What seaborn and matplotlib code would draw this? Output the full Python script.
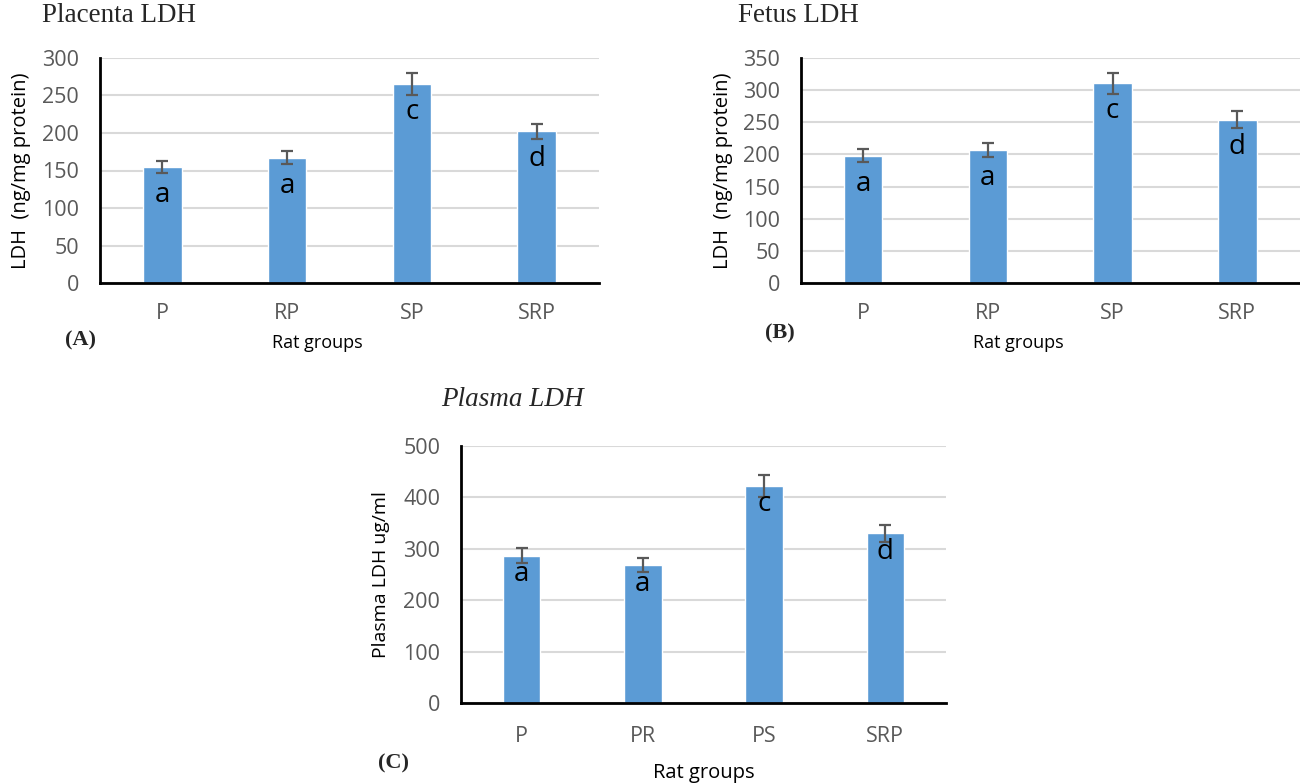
import matplotlib
matplotlib.use("Agg")
import matplotlib.pyplot as plt
import seaborn as sns
import pandas as pd

# ---- data ----
groups_ab = ["P", "RP", "SP", "SRP"]
groups_c = ["P", "PR", "PS", "SRP"]

placenta_ldh = [155, 167, 265, 202]
placenta_err = [8, 8.5, 14, 10]
placenta_letters = ["a", "a", "c", "d"]

fetus_ldh = [198, 207, 310, 254]
fetus_err = [10, 11, 16, 13]
fetus_letters = ["a", "a", "c", "d"]

plasma_ldh = [287, 268, 422, 330]
plasma_err = [14.5, 13.5, 21, 17]
plasma_letters = ["a", "a", "c", "d"]

yticks_a = [0, 50, 100, 150, 200, 250, 300]
yticks_b = [0, 50, 100, 150, 200, 250, 300, 350]
yticks_c = [0, 100, 200, 300, 400, 500]

# ---- style ----
sns.set_theme(style="white")
plt.rcParams["font.family"] = ["Open Sans", "DejaVu Sans"]

BAR = "#5B9BD5"
GRAY = "#595959"
W, H = 1300, 784

fig = plt.figure(figsize=(13, 7.84), dpi=100)


def px_axes(left, top, right, bottom):
    return fig.add_axes([left / W, 1 - bottom / H, (right - left) / W, (bottom - top) / H])


def panel(ax, cats, vals, errs, letters, yticks, ylabel, ylab_x, xlab_x, xlab_y,
          lab_fs, xlab_fs, letter_off, xpad):
    df = pd.DataFrame({"group": cats, "value": vals})
    sns.barplot(data=df, x="group", y="value", color=BAR, saturation=1,
                width=0.31, errorbar=None, ax=ax, zorder=2)
    ax.errorbar(range(len(vals)), vals, yerr=errs, fmt="none", ecolor=GRAY,
                elinewidth=1.6, capsize=4, capthick=1.6, zorder=3)
    for i, (v, t) in enumerate(zip(vals, letters)):
        ax.annotate(t, (i, v), xytext=(0, letter_off), textcoords="offset points",
                    ha="center", va="top", fontsize=20, color="black", zorder=4)
    ax.set_xlim(-0.5, len(vals) - 0.5)
    ax.set_ylim(yticks[0], yticks[-1])
    ax.set_yticks(yticks)
    ax.yaxis.grid(True, color="#d9d9d9", lw=1.5)
    ax.xaxis.grid(False)
    ax.set_axisbelow(True)
    for s in ["top", "right"]:
        ax.spines[s].set_visible(False)
    for s in ["left", "bottom"]:
        ax.spines[s].set_color("black")
        ax.spines[s].set_linewidth(2)
    ax.tick_params(axis="y", length=0, pad=15, labelsize=15.5, labelcolor=GRAY)
    ax.tick_params(axis="x", length=0, pad=xpad, labelsize=15.5, labelcolor=GRAY)
    ax.set_ylabel(ylabel, fontsize=lab_fs, color="black", va="center")
    ax.yaxis.set_label_coords(ylab_x, 0.5)
    ax.set_xlabel("Rat groups", fontsize=xlab_fs, color="black", va="center")
    ax.xaxis.set_label_coords(xlab_x, xlab_y)


axA = px_axes(100, 57.7, 599, 283.3)
panel(axA, groups_ab, placenta_ldh, placenta_err, placenta_letters, yticks_a,
      "LDH  (ng/mg protein)", -0.158, 0.435, -0.265, 14.5, 13, -10, 14)

axB = px_axes(800.8, 57.7, 1299.6, 283.3)
panel(axB, groups_ab, fetus_ldh, fetus_err, fetus_letters, yticks_b,
      "LDH  (ng/mg protein)", -0.156, 0.437, -0.265, 14.5, 13, -10, 14)

axC = px_axes(461, 446, 946, 703.3)
panel(axC, groups_c, plasma_ldh, plasma_err, plasma_letters, yticks_c,
      "Plasma LDH ug/ml", -0.165, 0.501, -0.271, 14, 14.5, -3, 16)

serif = ["Liberation Serif", "DejaVu Serif"]
fig.text(42 / W, 1 - 15 / H, "Placenta LDH", fontsize=19.5, family=serif, va="center", ha="left")
fig.text(737.5 / W, 1 - 15 / H, "Fetus LDH", fontsize=19.5, family=serif, va="center", ha="left")
fig.text(441 / W, 1 - 400 / H, "Plasma LDH", fontsize=19.5, family=serif, style="italic",
         va="center", ha="left")

fig.text(80 / W, 1 - 340 / H, "(A)", fontsize=16, family=serif, weight="bold", ha="center", va="center")
fig.text(779.5 / W, 1 - 333 / H, "(B)", fontsize=16, family=serif, weight="bold", ha="center", va="center")
fig.text(393 / W, 1 - 763 / H, "(C)", fontsize=16, family=serif, weight="bold", ha="center", va="center")

fig.savefig("out.png", dpi=100, facecolor="white")
